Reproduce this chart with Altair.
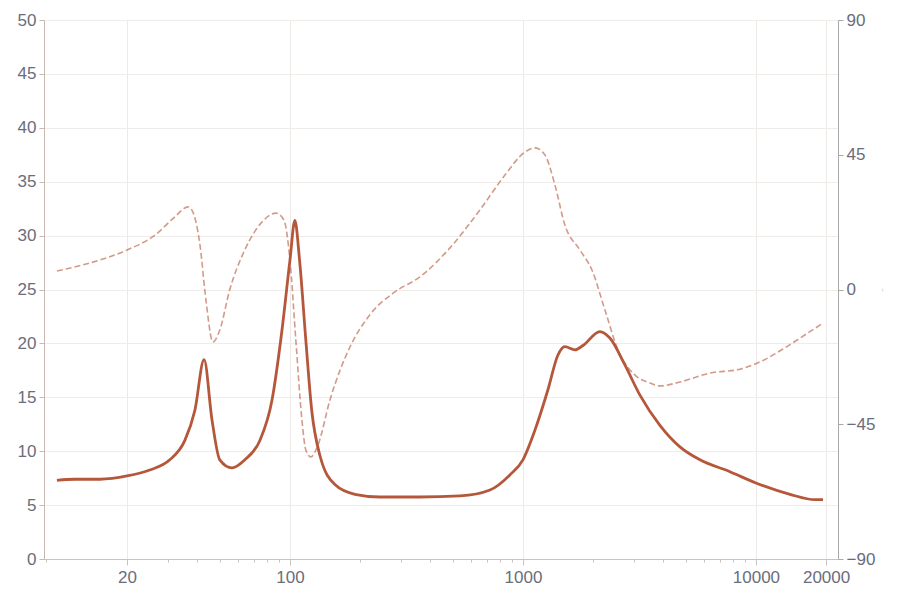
import altair as alt
import pandas as pd

# Impedance magnitude (left axis)
imp_freq = [10, 11.9, 15.3, 20, 25, 30.5, 35.4, 39.1, 42.8, 46.3, 50, 56.4, 64, 74.3, 83.7, 92.4,
            100, 105, 110, 117, 124, 134.5, 156, 190, 243, 361, 537, 722, 879, 1000, 1128, 1280,
            1412, 1514, 1671, 1810, 2139, 2361, 2739, 3178, 3872, 4718, 5750, 7733, 10000, 14000,
            17900, 19400]
imp_val = [7.3, 7.4, 7.4, 7.7, 8.25, 9.2, 11.0, 13.8, 18.5, 12.9, 9.2, 8.45, 9.2, 11.0, 14.7, 21.2,
           27.7, 31.4, 27.7, 20.3, 13.8, 9.6, 6.9, 6.0, 5.75, 5.75, 5.85, 6.4, 7.8, 9.2, 12.0, 15.7,
           18.9, 19.7, 19.4, 19.8, 21.1, 20.5, 18.0, 15.2, 12.4, 10.4, 9.2, 8.1, 7.05, 6.0,
           5.5, 5.5]

# Phase (right axis)
ph_freq = [10, 13.9, 20, 26.4, 32, 36.5, 37.9, 41.1, 43.6, 46.7, 50, 55.2, 64, 75.8, 87.1, 94.2,
           100, 106, 112.6, 117, 123, 132, 148.5, 181, 220, 282, 361, 486, 654, 837, 1020, 1128,
           1243, 1372, 1514, 1757, 1978, 2248, 2558, 3027, 3510, 3872, 4718, 6350, 8540, 10400,
           13300, 16200, 19400]
ph_val = [6.2, 8.9, 13.2, 18.2, 24.2, 27.6, 26.6, 14.9, -3.5, -17.5, -13.5, 0.0, 13.2, 22.5, 25.5, 23.2,
          9.9, -16.9, -43.6, -53.6, -55.9, -51.9, -36.9, -19.2, -8.5, -0.8, 4.2, 13.9, 26.6, 38.2, 45.9, 47.3,
          44.9, 34.9, 21.5, 13.2, 6.5, -6.8, -20.2, -28.6, -31.2, -32.2, -30.9, -27.9, -26.6, -24.2,
          -19.5, -15.2, -11.2]

major_ticks = [20, 100, 1000, 10000, 20000]
minor_ticks = [9, 30, 40, 50, 60, 70, 80, 90, 200, 300, 400, 500, 600, 700, 800, 900,
               2000, 3000, 4000, 5000, 6000, 7000, 8000, 9000]
left_ticks = [0, 5, 10, 15, 20, 25, 30, 35, 40, 45, 50]
right_ticks = [-90, -45, 0, 45, 90]

imp_df = pd.DataFrame({"f": imp_freq, "z": imp_val})
ph_df = pd.DataFrame({"f": ph_freq, "p": ph_val})

LINE = "#b5573b"
LABEL = "#6b6d7c"
FONT = "Liberation Sans"
major_test = "datum.value == 20 || datum.value == 100 || datum.value == 1000 || datum.value == 10000 || datum.value == 20000"

x_enc = alt.X(
    "f:Q",
    scale=alt.Scale(type="log", domain=[8.8, 22500], nice=False),
    axis=alt.Axis(
        values=sorted(major_ticks + minor_ticks),
        labelExpr="(" + major_test + ") ? datum.label : ''",
        format="d",
        title=None,
        grid=True,
        gridColor={"condition": {"test": major_test, "value": "#ece9e6"}, "value": "rgba(0,0,0,0)"},
        tickSize={"condition": {"test": major_test, "value": 6}, "value": 3},
        tickColor="#c9c2be",
        domainColor="#c9c2be",
        labelColor=LABEL,
        labelFontSize=17,
        labelFont=FONT,
        labelPadding=4,
        labelOverlap=False,
    ),
)

imp = alt.Chart(imp_df).mark_line(
    color=LINE, strokeWidth=2.8, interpolate="monotone"
).encode(
    x=x_enc,
    y=alt.Y(
        "z:Q",
        scale=alt.Scale(domain=[0, 50], nice=False),
        axis=alt.Axis(
            values=left_ticks,
            title=None,
            grid=True,
            gridColor="#efece9",
            tickSize=5,
            tickColor="#c9b8b2",
            domainColor="#c9b8b2",
            labelColor=LABEL,
            labelFontSize=17,
            labelFont=FONT,
            labelPadding=3,
        ),
    ),
)

ph = alt.Chart(ph_df).mark_line(
    color=LINE, opacity=0.6, strokeWidth=1.6, strokeDash=[6, 3], interpolate="monotone"
).encode(
    x=alt.X("f:Q", scale=alt.Scale(type="log", domain=[8.8, 22500], nice=False)),
    y=alt.Y(
        "p:Q",
        scale=alt.Scale(domain=[-90, 90], nice=False),
        axis=alt.Axis(
            orient="right",
            values=right_ticks,
            title="-",
            titleColor="#cfcfcf",
            titleFontSize=11,
            titleFontWeight="normal",
            titlePadding=3,
            grid=False,
            tickSize=5,
            tickColor="#a9a9a9",
            domainColor="#a9a9a9",
            labelColor=LABEL,
            labelFontSize=17,
            labelFont=FONT,
            labelPadding=3,
        ),
    ),
)

chart = alt.layer(imp, ph).resolve_scale(y="independent").properties(
    width=794,
    height=539,
    autosize=alt.AutoSizeParams(type="none"),
    padding={"left": 36, "top": 12, "right": 54, "bottom": 30},
).configure_view(stroke=None)

chart.save("out.html", embed_options={"renderer": "svg", "actions": False})
